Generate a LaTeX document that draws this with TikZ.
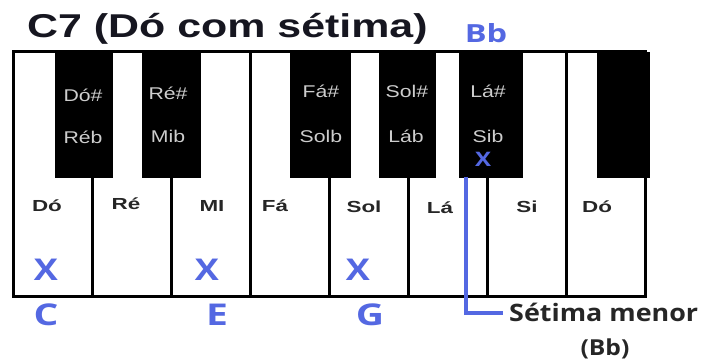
\documentclass[tikz,border=0pt]{standalone}
\usepackage{fontspec}
\setmainfont{Liberation Sans}
\newfontfamily\opensans{Open Sans}
\usepackage{xcolor}
\usepackage{tikz}
\usetikzlibrary{positioning}
\definecolor{chordblue}{RGB}{84,104,226}
\definecolor{sharpgray}{RGB}{205,205,205}
\definecolor{titleink}{RGB}{22,22,32}
\newcommand{\stretchx}[2]{\scalebox{#1}[1]{#2}}
\tikzset{
  whitekey/.style={
    draw, line width=3pt, fill=white, inner sep=0pt,
    minimum width=79pt, minimum height=245pt
  },
  blackkey/.style={
    draw=black, fill=black, inner sep=0pt, anchor=north,
    minimum height=125pt
  },
  sharplabel/.style={
    anchor=base, inner sep=0pt, text=sharpgray,
    font=\fontsize{17}{17}\selectfont
  },
  keylabel/.style={
    anchor=base, inner sep=0pt, text=black!85,
    font=\fontsize{16}{16}\selectfont\bfseries
  },
  chordmark/.style={
    anchor=base, inner sep=0pt, text=chordblue,
    font=\opensans\bfseries\fontsize{30}{30}\selectfont
  },
  notename/.style={
    anchor=base, inner sep=0pt, text=chordblue,
    font=\opensans\bfseries\fontsize{30}{30}\selectfont
  },
  seventhline/.style={line width=4pt, chordblue},
}

\begin{document}
\begin{tikzpicture}[x=1pt, y=-1pt]
  \useasboundingbox (0,0) rectangle (704,363);

  % === Title ===
  \node[anchor=base west, inner sep=0pt, text=titleink,
    font=\fontsize{33}{33}\selectfont\bfseries] (title) at (27,38)
    {\stretchx{1.3}{C7 (Dó com sétima)}};
  \node[anchor=base, inner sep=0pt, text=chordblue,
    font=\opensans\bfseries\fontsize{25}{25}\selectfont] (bb_top) at (486,43)
    {\stretchx{1.3}{Bb}};

  % === White keys ===
  \node[whitekey] (key_do)  at (52.5,174.5) {};
  \node[whitekey] (key_re)  at (131.5,174.5) {};
  \node[whitekey] (key_mi)  at (210.5,174.5) {};
  \node[whitekey] (key_fa)  at (289.5,174.5) {};
  \node[whitekey] (key_sol) at (368.5,174.5) {};
  \node[whitekey] (key_la)  at (447.5,174.5) {};
  \node[whitekey] (key_si)  at (526.5,174.5) {};
  \node[whitekey] (key_do2) at (605.5,174.5) {};

  % === Black keys ===
  \node[blackkey, minimum width=57pt] (black_dos) at (83.5,52) {};
  \node[blackkey, minimum width=58pt] (black_res) at (171,52) {};
  \node[blackkey, minimum width=60pt] (black_fas) at (320,52) {};
  \node[blackkey, minimum width=56pt] (black_sols) at (407,52) {};
  \node[blackkey, minimum width=63pt] (black_las) at (490.5,52) {};
  \node[blackkey, minimum width=52pt] (black_dos2) at (623,52) {};

  % Sharp / flat names
  \node[sharplabel] (sh_dos)  at (83,102)  {\stretchx{1.25}{Dó\#}};
  \node[sharplabel] (fl_reb)  at (83,144)  {\stretchx{1.25}{Réb}};
  \node[sharplabel] (sh_res)  at (168,100) {\stretchx{1.25}{Ré\#}};
  \node[sharplabel] (fl_mib)  at (168,143) {\stretchx{1.25}{Mib}};
  \node[sharplabel] (sh_fas)  at (321,98)  {\stretchx{1.25}{Fá\#}};
  \node[sharplabel] (fl_solb) at (321,143) {\stretchx{1.25}{Solb}};
  \node[sharplabel] (sh_sols) at (407,98)  {\stretchx{1.25}{Sol\#}};
  \node[sharplabel] (fl_lab)  at (406,143) {\stretchx{1.25}{Láb}};
  \node[sharplabel] (sh_las)  at (488,98)  {\stretchx{1.25}{Lá\#}};
  \node[sharplabel] (fl_sib)  at (488,143) {\stretchx{1.25}{Sib}};

  % Natural names
  \node[keylabel] (lbl_do)  at (47,212)  {\stretchx{1.4}{Dó}};
  \node[keylabel] (lbl_re)  at (126,210) {\stretchx{1.4}{Ré}};
  \node[keylabel] (lbl_mi)  at (212,212) {\stretchx{1.4}{MI}};
  \node[keylabel] (lbl_fa)  at (275,212) {\stretchx{1.4}{Fá}};
  \node[keylabel] (lbl_sol) at (364,213) {\stretchx{1.4}{Sol}};
  \node[keylabel] (lbl_la)  at (440,214) {\stretchx{1.4}{Lá}};
  \node[keylabel] (lbl_si)  at (527,213) {\stretchx{1.4}{Si}};
  \node[keylabel] (lbl_do2) at (597,213) {\stretchx{1.4}{Dó}};

  % === Chord marks ===
  \node[chordmark] (mark_c) at (46,280)  {\stretchx{1.2}{X}};
  \node[chordmark] (mark_e) at (207,280) {\stretchx{1.2}{X}};
  \node[chordmark] (mark_g) at (358,280) {\stretchx{1.2}{X}};
  \node[chordmark, font=\opensans\bfseries\fontsize{20}{20}\selectfont]
    (mark_bb) at (483,167) {\stretchx{1.2}{X}};

  \node[notename] (note_c) at (46,325)  {\stretchx{1.3}{C}};
  \node[notename] (note_e) at (217,325) {\stretchx{1.3}{E}};
  \node[notename] (note_g) at (370,325) {\stretchx{1.3}{G}};

  % === Minor seventh callout ===
  \node[anchor=west, inner sep=0pt, text=black!85, text height=17pt, text depth=0pt,
    font=\opensans\bfseries\fontsize{24}{24}\selectfont] (setima) at (509,313.5)
    {\stretchx{1.12}{Sétima menor}};
  \node[anchor=base, inner sep=0pt, text=black!85,
    font=\opensans\bfseries\fontsize{22}{22}\selectfont] (setima_bb) at (605,355)
    {\stretchx{1.12}{(Bb)}};

  \coordinate (seventh_top) at (466,177);
  \draw[seventhline] (seventh_top) |- ([xshift=-6pt]setima.west);

\end{tikzpicture}
\end{document}
